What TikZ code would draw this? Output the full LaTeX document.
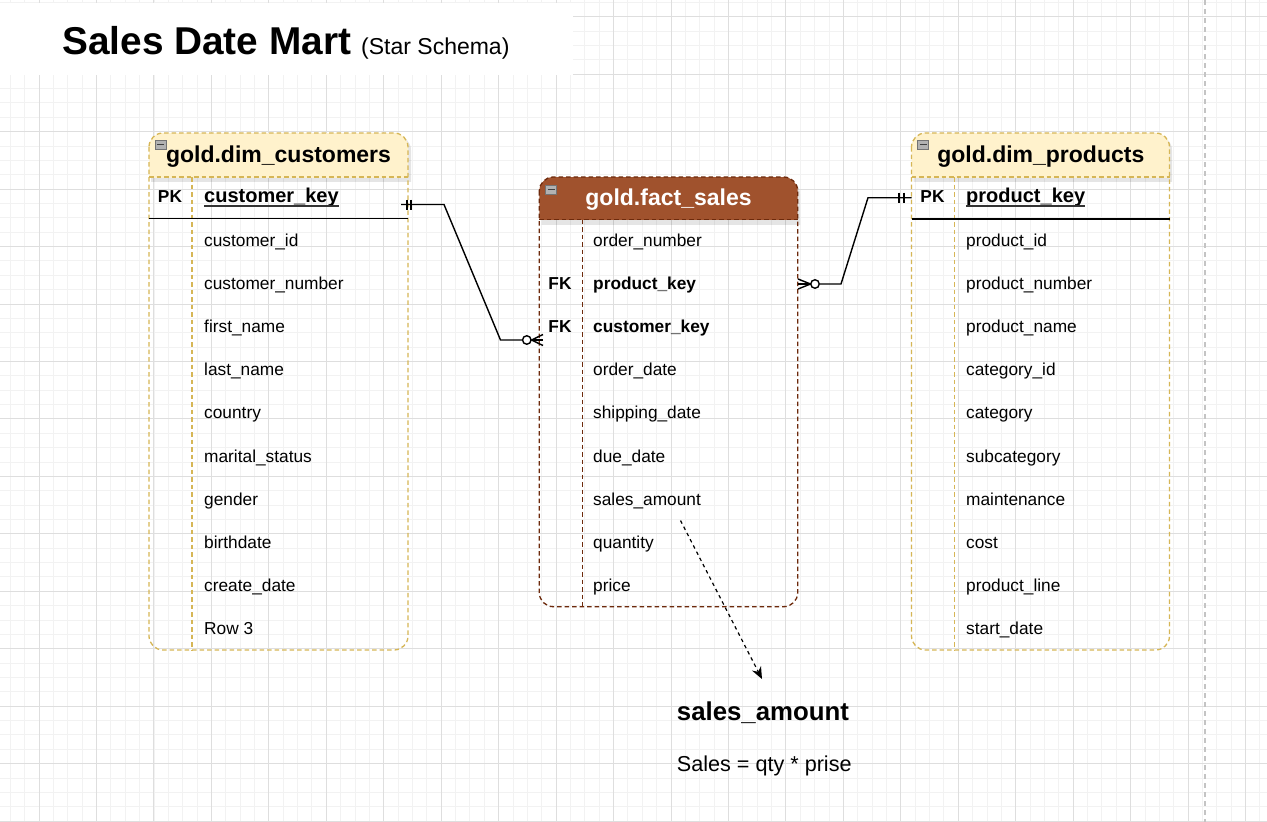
\documentclass[tikz,border=0pt]{standalone}
\usepackage{fontspec}
\setmainfont{Liberation Sans}
\usetikzlibrary{arrows.meta}
\definecolor{gold}{HTML}{D6B656}
\definecolor{goldfill}{HTML}{FFF2CC}
\definecolor{sienna}{HTML}{A0522D}
\definecolor{siennaline}{HTML}{6D2A0C}
\definecolor{gridminor}{HTML}{F2F2F2}
\definecolor{gridmajor}{HTML}{DEDEDE}
\definecolor{pagebreak}{HTML}{C4C4C4}
\newcommand{\myfs}[1]{\fontsize{#1pt}{#1pt}\selectfont}
\begin{document}
\begin{tikzpicture}[x=1pt,y=-1pt,
  rowtxt/.style={anchor=base west, inner sep=0pt, font=\myfs{17.3}},
  fktxt/.style={anchor=base west, inner sep=0pt, font={\bfseries\myfs{17.3}}},
  tagtxt/.style={anchor=base, inner sep=0pt, font={\bfseries\myfs{17.3}}},
  hdrtxt/.style={anchor=base, inner sep=0pt, font={\bfseries\myfs{23}}},
  pktxt/.style={anchor=base west, inner sep=0pt, font={\bfseries\myfs{20}}},
  gdash/.style={draw=gold, line width=1.3pt, dash pattern=on 4.5pt off 3pt},
  bdash/.style={draw=siennaline, line width=1.3pt, dash pattern=on 4.5pt off 3pt},
  conn/.style={draw=black, line width=1.4pt},
  ring/.style={circle, draw=black, line width=1.4pt, fill=white, inner sep=0pt, minimum size=8.5pt},
  icon/.style={rectangle, draw=black!55, fill=black!30, line width=0.8pt, inner sep=0pt,
    minimum width=11pt, minimum height=9pt,
    path picture={\draw[line width=1.3pt, black!75] ([xshift=2pt]path picture bounding box.west) -- ([xshift=-2pt]path picture bounding box.east);}},
  shadowfill/.style={fill=black, opacity=0.10}
]
\useasboundingbox (0,0) rectangle (1267,822);
\clip (0,0) rectangle (1267,822);
\fill[white] (0,0) rectangle (1267,822);
% grid
\foreach \i in {-3,...,89} \draw[gridminor, line width=0.8pt] ({39+\i*14.3625},0) -- ({39+\i*14.3625},822);
\foreach \j in {-2,...,58} \draw[gridminor, line width=0.8pt] (0,{16.7+\j*14.3625}) -- (1267,{16.7+\j*14.3625});
\foreach \i in {-1,...,22} \draw[gridmajor, line width=0.9pt] ({39+\i*57.45},0) -- ({39+\i*57.45},822);
\foreach \j in {-1,...,14} \draw[gridmajor, line width=0.9pt] (0,{16.7+\j*57.45}) -- (1267,{16.7+\j*57.45});
% page break
\draw[pagebreak, line width=1.3pt, dash pattern=on 5pt off 4pt] (1205,0) -- (1205,822);

% title
\fill[white] (0,3) rectangle (573,75);
\node[anchor=base west, inner sep=0pt, font={\bfseries\myfs{38.8}}] (title) at (62,54) {Sales Date Mart};
\node[anchor=base west, inner sep=0pt, font=\myfs{23}] (subtitle) at (361,54) {(Star Schema)};

% ---------- customers table ----------
\begin{scope}
  \clip (140,120) rectangle (420,181);
  \fill[shadowfill, rounded corners=14pt] (151,136) rectangle (411,220);
\end{scope}
\begin{scope}
  \clip (140,120) rectangle (420,177);
  \fill[goldfill, rounded corners=14pt] (149,133) rectangle (408,220);
\end{scope}
\draw[gdash, rounded corners=14pt] (149,133) rectangle (408,650);
\draw[gdash] (149,177) -- (408,177);
\draw[gdash] (192,177) -- (192,650);
\draw[black, line width=1.3pt] (149,218.5) -- (408,218.5);
\node[icon] (icc) at (160.5,144.5) {};
\node[hdrtxt] (hc) at (278.5,162.5) {gold.dim\_customers};
\node[tagtxt] (pkc) at (170,202.5) {PK};
\node[pktxt] (kc) at (204,202.5) {customer\_key};
\draw[black!80, line width=1.2pt] ([yshift=-3.5pt]kc.base west) -- ([yshift=-3.5pt]kc.base east);
\foreach \t [count=\i from 0] in {customer\_id, customer\_number, first\_name, last\_name, country, marital\_status, gender, birthdate, create\_date, Row 3}
  \node[rowtxt] (cu\i) at (204,{246+43.2*\i}) {\t};

% ---------- products table ----------
\begin{scope}
  \clip (900,120) rectangle (1185,181);
  \fill[shadowfill, rounded corners=14pt] (913.5,136) rectangle (1172,220);
\end{scope}
\begin{scope}
  \clip (900,120) rectangle (1185,177);
  \fill[goldfill, rounded corners=14pt] (911.5,133) rectangle (1169.5,220);
\end{scope}
\draw[gdash, rounded corners=14pt] (911.5,133) rectangle (1169.5,650);
\draw[gdash] (911.5,177) -- (1169.5,177);
\draw[gdash] (954.5,177) -- (954.5,650);
\draw[black, line width=1.3pt] (911.5,219) -- (1169.5,219);
\node[icon] (icp) at (923,144.5) {};
\node[hdrtxt] (hp) at (1040.8,162.5) {gold.dim\_products};
\node[tagtxt] (pkp) at (932.5,202.5) {PK};
\node[pktxt] (kp) at (966,202.5) {product\_key};
\draw[black!80, line width=1.2pt] ([yshift=-3.5pt]kp.base west) -- ([yshift=-3.5pt]kp.base east);
\foreach \t [count=\i from 0] in {product\_id, product\_number, product\_name, category\_id, category, subcategory, maintenance, cost, product\_line, start\_date}
  \node[rowtxt] (pr\i) at (966,{246+43.2*\i}) {\t};

% ---------- fact table ----------
\begin{scope}
  \clip (530,165) rectangle (810,224);
  \fill[shadowfill, rounded corners=14pt] (541.5,180) rectangle (800,260);
\end{scope}
\begin{scope}
  \clip (530,165) rectangle (810,219.5);
  \fill[sienna, rounded corners=14pt] (539.3,177) rectangle (797.7,260);
\end{scope}
\draw[bdash, rounded corners=14pt] (539.3,177) rectangle (797.7,606.7);
\draw[bdash] (539.3,219.5) -- (797.7,219.5);
\draw[bdash] (582.3,219.5) -- (582.3,606.7);
\node[icon] (icf) at (551,189.5) {};
\node[hdrtxt, text=white] (hf) at (668.5,205) {gold.fact\_sales};
\node[rowtxt] (fa0) at (593,246) {order\_number};
\node[tagtxt] (fkp) at (560,{246+43.2}) {FK};
\node[fktxt] (fa1) at (593,{246+43.2}) {product\_key};
\node[tagtxt] (fkc) at (560,{246+43.2*2}) {FK};
\node[fktxt] (fa2) at (593,{246+43.2*2}) {customer\_key};
\foreach \t [count=\i from 3] in {order\_date, shipping\_date, due\_date, sales\_amount, quantity, price}
  \node[rowtxt] (fa\i) at (593,{246+43.2*\i}) {\t};

% ---------- connector customers -> fact ----------
\coordinate (l0) at (401,204.5);
\coordinate (l1) at (444,204.5);
\coordinate (l2) at (500.5,340);
\node[ring] (lo) at (526.8,340) {};
\coordinate (lf) at (531.5,340);
\coordinate (le) at (543,340);
\draw[conn] (l0) -- (l1) -- (l2) -- (lo);
\draw[conn] ([xshift=6pt,yshift=5pt]l0) -- ([xshift=6pt,yshift=-5pt]l0);
\draw[conn] ([xshift=10pt,yshift=5pt]l0) -- ([xshift=10pt,yshift=-5pt]l0);
\draw[conn] (lf) -- (le);
\draw[conn] (lf) -- ([yshift=5.5pt]le);
\draw[conn] (lf) -- ([yshift=-5.5pt]le);

% ---------- connector fact -> products ----------
\coordinate (r0) at (798,284);
\coordinate (rf) at (810.5,284);
\node[ring] (ro) at (815,284) {};
\coordinate (r1) at (841,284);
\coordinate (r2) at (868,197.7);
\coordinate (r3) at (911.5,197.7);
\draw[conn] (ro) -- (r1) -- (r2) -- (r3);
\draw[conn] (rf) -- (r0);
\draw[conn] (rf) -- ([yshift=5pt]r0);
\draw[conn] (rf) -- ([yshift=-5pt]r0);
\draw[conn] ([xshift=-12.5pt,yshift=5pt]r3) -- ([xshift=-12.5pt,yshift=-5pt]r3);
\draw[conn] ([xshift=-7.5pt,yshift=5pt]r3) -- ([xshift=-7.5pt,yshift=-5pt]r3);

% ---------- note ----------
\coordinate (a0) at (680.5,520.5);
\coordinate (a1) at (762,679);
\draw[black, line width=1.2pt, dash pattern=on 3.5pt off 3.5pt, -{Stealth[length=12pt,width=10pt]}] (a0) -- (a1);
\node[anchor=base west, inner sep=0pt, font={\bfseries\myfs{25.8}}] (n1) at (676.7,720) {sales\_amount};
\node[anchor=base west, inner sep=0pt, font=\myfs{21.6}] (n2) at (676.7,771) {Sales = qty * prise};
\end{tikzpicture}
\end{document}
